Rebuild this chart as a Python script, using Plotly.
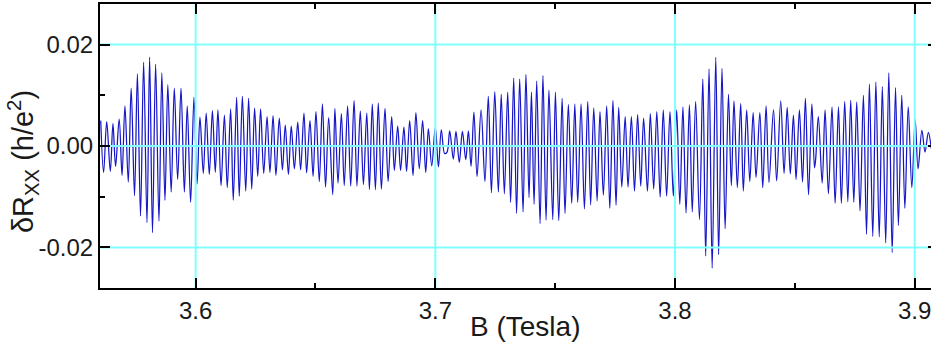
import plotly.graph_objects as go

# Magnetic field B (Tesla) at successive extrema of the oscillation
B_1 = [3.5604, 3.5616, 3.5629, 3.5644, 3.5655, 3.5666, 3.5681, 3.5693, 3.5705, 3.5719,
       3.5731, 3.5745, 3.5757, 3.5770, 3.5783, 3.5797, 3.5808, 3.5820, 3.5833, 3.5847,
       3.5859, 3.5872, 3.5884, 3.5898, 3.5911, 3.5925, 3.5939, 3.5953, 3.5965, 3.5979,
       3.5993, 3.6006, 3.6018, 3.6032, 3.6044, 3.6057, 3.6070, 3.6082, 3.6093, 3.6106,
       3.6120, 3.6132, 3.6146, 3.6157, 3.6171]
R_1 = [0.0050, -0.0052, 0.0048, -0.0050, 0.0044, -0.0040, 0.0053, -0.0058, 0.0079, -0.0071,
       0.0114, -0.0098, 0.0142, -0.0138, 0.0165, -0.0151, 0.0175, -0.0171, 0.0161, -0.0148,
       0.0144, -0.0107, 0.0121, -0.0091, 0.0114, -0.0066, 0.0114, -0.0091, 0.0079, -0.0111,
       0.0096, -0.0075, 0.0057, -0.0054, 0.0065, -0.0056, 0.0070, -0.0052, 0.0071, -0.0078,
       0.0061, -0.0082, 0.0073, -0.0107, 0.0096]

B_2 = [3.6182, 3.6195, 3.6209, 3.6221, 3.6234, 3.6246, 3.6259, 3.6271, 3.6284, 3.6298,
       3.6310, 3.6323, 3.6335, 3.6349, 3.6362, 3.6374, 3.6387, 3.6399, 3.6412, 3.6426,
       3.6438, 3.6452, 3.6463, 3.6477, 3.6490, 3.6502, 3.6516, 3.6529, 3.6542, 3.6555,
       3.6572, 3.6581, 3.6594, 3.6608, 3.6620, 3.6634, 3.6647, 3.6661, 3.6673, 3.6687,
       3.6700, 3.6714, 3.6725, 3.6737, 3.6750]
R_2 = [-0.0099, 0.0098, -0.0089, 0.0094, -0.0085, 0.0075, -0.0060, 0.0073, -0.0054, 0.0058,
       -0.0052, 0.0060, -0.0058, 0.0055, -0.0047, 0.0041, -0.0056, 0.0039, -0.0045, 0.0047,
       -0.0047, 0.0065, -0.0053, 0.0050, -0.0060, 0.0068, -0.0070, 0.0083, -0.0081, 0.0056,
       -0.0096, 0.0074, -0.0073, 0.0064, -0.0078, 0.0079, -0.0079, 0.0090, -0.0079, 0.0069,
       -0.0076, 0.0065, -0.0086, 0.0083, -0.0086]

B_3 = [3.6762, 3.6775, 3.6790, 3.6803, 3.6818, 3.6829, 3.6843, 3.6855, 3.6869, 3.6880,
       3.6893, 3.6907, 3.6919, 3.6933, 3.6947, 3.6960, 3.6971, 3.6985, 3.7000, 3.7013,
       3.7025, 3.7039, 3.7049, 3.7060, 3.7075, 3.7086, 3.7100, 3.7113, 3.7127, 3.7138,
       3.7149, 3.7161, 3.7174, 3.7191, 3.7207, 3.7221, 3.7234, 3.7248, 3.7263, 3.7275,
       3.7288, 3.7302, 3.7314, 3.7327]
R_3 = [0.0085, -0.0085, 0.0074, -0.0070, 0.0058, -0.0048, 0.0039, -0.0048, 0.0037, -0.0050,
       0.0050, -0.0058, 0.0066, -0.0045, 0.0050, -0.0052, 0.0034, -0.0039, 0.0037, -0.0041,
       0.0032, -0.0015, -0.0012, 0.0030, -0.0026, 0.0029, -0.0032, 0.0029, -0.0027, 0.0030,
       -0.0040, 0.0067, -0.0060, 0.0071, -0.0070, 0.0098, -0.0092, 0.0107, -0.0091, 0.0102,
       -0.0094, 0.0106, -0.0111, 0.0134]

B_4 = [3.7339, 3.7352, 3.7366, 3.7378, 3.7391, 3.7401, 3.7412, 3.7423, 3.7437, 3.7449,
       3.7462, 3.7474, 3.7490, 3.7501, 3.7515, 3.7529, 3.7541, 3.7555, 3.7569, 3.7582,
       3.7594, 3.7608, 3.7622, 3.7636, 3.7648, 3.7661, 3.7675, 3.7687, 3.7701, 3.7715,
       3.7728, 3.7741, 3.7754, 3.7765, 3.7778, 3.7792, 3.7804, 3.7818, 3.7831, 3.7844,
       3.7857, 3.7869, 3.7885, 3.7897]
R_4 = [-0.0133, 0.0132, -0.0130, 0.0141, -0.0102, 0.0106, -0.0115, 0.0128, -0.0153, 0.0139,
       -0.0146, 0.0110, -0.0145, 0.0106, -0.0147, 0.0094, -0.0133, 0.0082, -0.0113, 0.0083,
       -0.0111, 0.0083, -0.0124, 0.0088, -0.0116, 0.0075, -0.0108, 0.0068, -0.0097, 0.0079,
       -0.0123, 0.0090, -0.0117, 0.0076, -0.0081, 0.0058, -0.0081, 0.0058, -0.0089, 0.0062,
       -0.0079, 0.0055, -0.0089, 0.0064]

B_5 = [3.7911, 3.7924, 3.7938, 3.7951, 3.7965, 3.7979, 3.7993, 3.8007, 3.8020, 3.8033,
       3.8046, 3.8060, 3.8072, 3.8086, 3.8102, 3.8116, 3.8128, 3.8142, 3.8155, 3.8170,
       3.8182, 3.8196, 3.8209, 3.8223, 3.8235, 3.8246, 3.8260, 3.8274, 3.8285, 3.8299,
       3.8312, 3.8326, 3.8338, 3.8354, 3.8366, 3.8380, 3.8392, 3.8411, 3.8424, 3.8441,
       3.8455, 3.8468, 3.8481, 3.8494]
R_5 = [-0.0085, 0.0068, -0.0101, 0.0071, -0.0099, 0.0068, -0.0099, 0.0071, -0.0115, 0.0077,
       -0.0132, 0.0081, -0.0130, 0.0088, -0.0145, 0.0132, -0.0217, 0.0152, -0.0241, 0.0175,
       -0.0214, 0.0153, -0.0163, 0.0102, -0.0078, 0.0089, -0.0082, 0.0084, -0.0089, 0.0071,
       -0.0070, 0.0066, -0.0062, 0.0066, -0.0082, 0.0079, -0.0072, 0.0071, -0.0069, 0.0089,
       -0.0054, 0.0076, -0.0055, 0.0061]

B_6 = [3.8505, 3.8519, 3.8532, 3.8544, 3.8557, 3.8571, 3.8582, 3.8587, 3.8598, 3.8614,
       3.8626, 3.8640, 3.8655, 3.8668, 3.8682, 3.8694, 3.8708, 3.8721, 3.8733, 3.8746,
       3.8758, 3.8772, 3.8786, 3.8799, 3.8811, 3.8825, 3.8838, 3.8852, 3.8865, 3.8879,
       3.8892, 3.8906, 3.8920, 3.8932, 3.8946, 3.8959, 3.8973, 3.8988, 3.9002, 3.9014,
       3.9030, 3.9043, 3.9057, 3.9069]
R_6 = [-0.0066, 0.0071, -0.0071, 0.0094, -0.0096, 0.0083, -0.0043, -0.0025, 0.0058, -0.0073,
       0.0071, -0.0094, 0.0077, -0.0113, 0.0077, -0.0113, 0.0088, -0.0110, 0.0090, -0.0111,
       0.0087, -0.0128, 0.0100, -0.0174, 0.0122, -0.0178, 0.0126, -0.0179, 0.0117, -0.0191,
       0.0144, -0.0210, 0.0115, -0.0157, 0.0100, -0.0123, 0.0077, -0.0082, 0.0052, -0.0045,
       0.0031, -0.0012, 0.0027, -0.0005]

B_TESLA = B_1 + B_2 + B_3 + B_4 + B_5 + B_6
DELTA_RXX = R_1 + R_2 + R_3 + R_4 + R_5 + R_6

# Axes
X_RANGE = [3.5601, 3.9068]
Y_RANGE = [-0.028, 0.028]
X_TICKS = [3.6, 3.7, 3.8, 3.9]
X_TICK_TEXT = ["3.6", "3.7", "3.8", "3.9"]
X_MINOR = [3.65, 3.75, 3.85]
Y_TICKS = [-0.02, 0.0, 0.02]
Y_TICK_TEXT = ["-0.02", "0.00", "0.02"]
Y_MINOR = [-0.01, 0.01]
X_TITLE = "B (Tesla)"
Y_TITLE = "δR<sub>XX</sub> (h/e<sup>2</sup>)"

FONT = "Liberation Sans, Arial, Helvetica, sans-serif"
TXT = "#1a1a1a"
GRID = "#80ffff"
TICK_SIZE = 24
TITLE_SIZE = 28

# grid lines (drawn above the data, as in the original)
gx, gy = [], []
for v in X_TICKS:
    gx += [v, v, None]
    gy += [Y_RANGE[0], Y_RANGE[1], None]
for v in Y_TICKS:
    gx += [X_RANGE[0], X_RANGE[1], None]
    gy += [v, v, None]

fig = go.Figure()
fig.add_trace(go.Scatter(
    x=B_TESLA, y=DELTA_RXX, mode="lines",
    line=dict(color="#1616c8", width=1.25, shape="spline", smoothing=1.0),
    hoverinfo="skip", showlegend=False,
))
fig.add_trace(go.Scatter(
    x=gx, y=gy, mode="lines", yaxis="y2",
    line=dict(color=GRID, width=2),
    hoverinfo="skip", showlegend=False,
))

fig.update_layout(
    width=931, height=346,
    margin=dict(l=100, r=0, t=4, b=58),
    paper_bgcolor="white", plot_bgcolor="white",
    font=dict(family=FONT, size=TICK_SIZE, color=TXT),
    showlegend=False,
    xaxis=dict(
        range=X_RANGE, showgrid=False, zeroline=False, automargin=False,
        showline=True, linecolor="black", linewidth=2, mirror="ticks",
        ticks="inside", ticklen=10, tickwidth=2, tickcolor="black",
        tickvals=X_TICKS, ticktext=X_TICK_TEXT, ticklabeloverflow="allow",
        tickfont=dict(family=FONT, size=TICK_SIZE, color=TXT),
        minor=dict(tickvals=X_MINOR, ticks="inside", ticklen=5, tickwidth=2,
                   tickcolor="black", showgrid=False),
        layer="above traces",
    ),
    yaxis=dict(
        range=Y_RANGE, showgrid=False, zeroline=False, automargin=False,
        showline=True, linecolor="black", linewidth=2,
        ticks="inside", ticklen=10, tickwidth=2, tickcolor="black",
        tickvals=Y_TICKS, ticktext=Y_TICK_TEXT, ticklabeloverflow="allow",
        tickfont=dict(family=FONT, size=TICK_SIZE, color=TXT),
        minor=dict(tickvals=Y_MINOR, ticks="inside", ticklen=5, tickwidth=2,
                   tickcolor="black", showgrid=False),
        layer="above traces",
    ),
    yaxis2=dict(
        range=Y_RANGE, overlaying="y", side="right", anchor="x", automargin=False,
        showgrid=False, zeroline=False, showline=False,
        ticks="inside", ticklen=3, tickwidth=2, tickcolor="black",
        tickvals=Y_TICKS, showticklabels=False,
        layer="above traces",
    ),
    annotations=[
        dict(text=X_TITLE, xref="paper", yref="paper", x=0.5114, y=-0.137,
             xanchor="center", yanchor="middle", showarrow=False,
             font=dict(family=FONT, size=TITLE_SIZE, color=TXT)),
        dict(text=Y_TITLE, xref="paper", yref="paper", x=-0.0933, y=0.445,
             xanchor="center", yanchor="middle", showarrow=False, textangle=-90,
             font=dict(family=FONT, size=29, color=TXT)),
    ],
)

fig.write_html("out.html", config={"displayModeBar": False},
               post_script="document.body.style.margin='0';")
